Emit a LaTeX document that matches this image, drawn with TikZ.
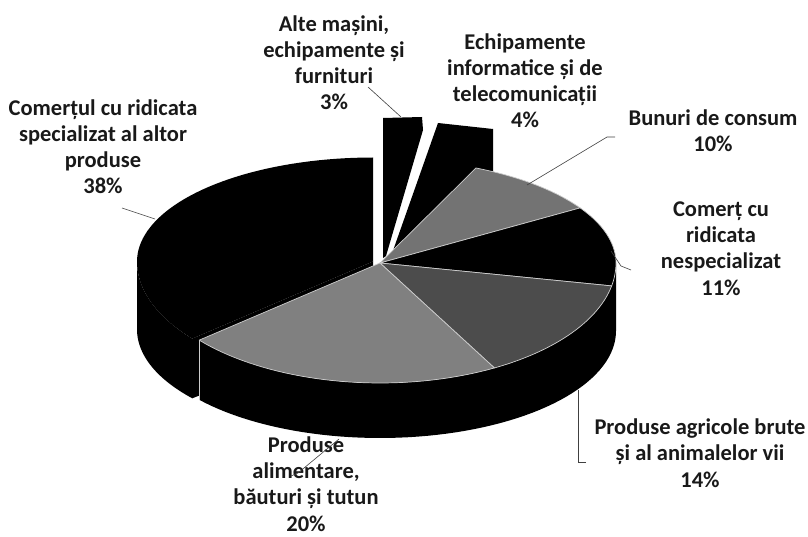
\documentclass[tikz,border=0pt]{standalone}
\usepackage{fontspec}
\setmainfont{Carlito}
\definecolor{cten}{gray}{0.45}
\definecolor{cfourteen}{gray}{0.30}
\definecolor{ctwenty}{gray}{0.50}
\begin{document}
\begin{tikzpicture}[x=1pt,y=-1pt,
  declare function={
    tx(\t)=380+236*sin(\t);
    ty(\t)=263-((cos(\t)>0)?104:120)*cos(\t);
    by(\t)=331-((cos(\t)>0)?104:107)*cos(\t);
  },
  lbl/.style={font=\fontsize{22.5}{26.3}\selectfont\bfseries, align=center, inner sep=0pt, anchor=base, text=black!90},
  leader/.style={draw=black!75, line width=0.6pt},
  rim/.style={draw=white!80!black, line width=0.7pt, line join=round},
]
\useasboundingbox (0,0) rectangle (808,537);

% exploded small slices (behind)
\fill[black] (383,118) -- (422,117) -- (423,130) -- (386,256) -- (383,258) -- cycle;
\fill[black] (438,123) -- (493,129) -- (493,185) -- (394,262) -- (389,262) -- cycle;

% 38% slice, slightly exploded to the left
\begin{scope}[shift={(-7,-1.5)}]
  \fill[black] (380,263) -- plot[domain=230:360,samples=60] ({tx(\x)},{ty(\x)}) -- cycle;
  \fill[black] plot[domain=230:270,samples=20] ({tx(\x)},{ty(\x)}) -- plot[domain=270:230,samples=20] ({tx(\x)},{by(\x)}) -- cycle;
  \fill[black] (380,263) -- ({tx(230)},{ty(230)}) -- ({tx(230)},{by(230)}) -- (380,331) -- cycle;
\end{scope}

% main pie side
\fill[black] plot[domain=90:230,samples=60] ({tx(\x)},{ty(\x)}) -- plot[domain=230:90,samples=60] ({tx(\x)},{by(\x)}) -- cycle;
\draw[rim] ({tx(230)},{ty(230)}) -- ({tx(230)},{by(230)});

% top faces
\filldraw[fill=cten, rim] (380,263) -- plot[domain=24:58,samples=30] ({tx(\x)},{ty(\x)}) -- cycle;
\filldraw[fill=black, rim] (380,263) -- plot[domain=58:101,samples=30] ({tx(\x)},{ty(\x)}) -- cycle;
\filldraw[fill=cfourteen, rim] (380,263) -- plot[domain=101:151,samples=30] ({tx(\x)},{ty(\x)}) -- cycle;
\filldraw[fill=ctwenty, rim] (380,263) -- plot[domain=151:230,samples=40] ({tx(\x)},{ty(\x)}) -- cycle;

% labels (anchor = baseline of the last line)
\node[lbl] (l38) at (103,194) {Comerțul cu ridicata\\specializat al altor\\produse\\38\%};
\node[lbl] (l3) at (334,110) {Alte mașini,\\echipamente și\\furnituri\\3\%};
\node[lbl] (l4) at (525,128) {Echipamente\\informatice și de\\telecomunicații\\4\%};
\node[lbl] (l10) at (713,152) {Bunuri de consum\\10\%};
\node[lbl] (l11) at (721,295) {Comerț cu\\ridicata\\nespecializat\\11\%};
\node[lbl] (l14) at (700,487) {Produse agricole brute\\și al animalelor vii\\14\%};
\node[lbl] (l20) at (306,531) {Produse\\alimentare,\\băuturi și tutun\\20\%};

% leader lines
\coordinate (a38) at (122,208); \coordinate (b38) at (155,219);
\coordinate (a3) at (368,87);   \coordinate (b3) at (401,117);
\coordinate (a10) at (615,137); \coordinate (m10) at (607,137); \coordinate (b10) at (527,185);
\coordinate (a11) at (631,270); \coordinate (m11) at (621,266); \coordinate (b11) at (611,251);
\coordinate (a14) at (586,462); \coordinate (m14) at (578,462); \coordinate (b14) at (578,390);
\coordinate (a20) at (291,476); \coordinate (m20) at (298,473); \coordinate (b20) at (339,439);
\draw[leader] (a38) -- (b38);
\draw[leader] (a3) -- (b3);
\draw[leader] (a10) -- (m10) -- (b10);
\draw[leader] (a11) -- (m11) -- (b11);
\draw[leader] (a14) -- (m14) -- (b14);
\draw[leader] (a20) -- (m20) -- (b20);
\end{tikzpicture}
\end{document}
